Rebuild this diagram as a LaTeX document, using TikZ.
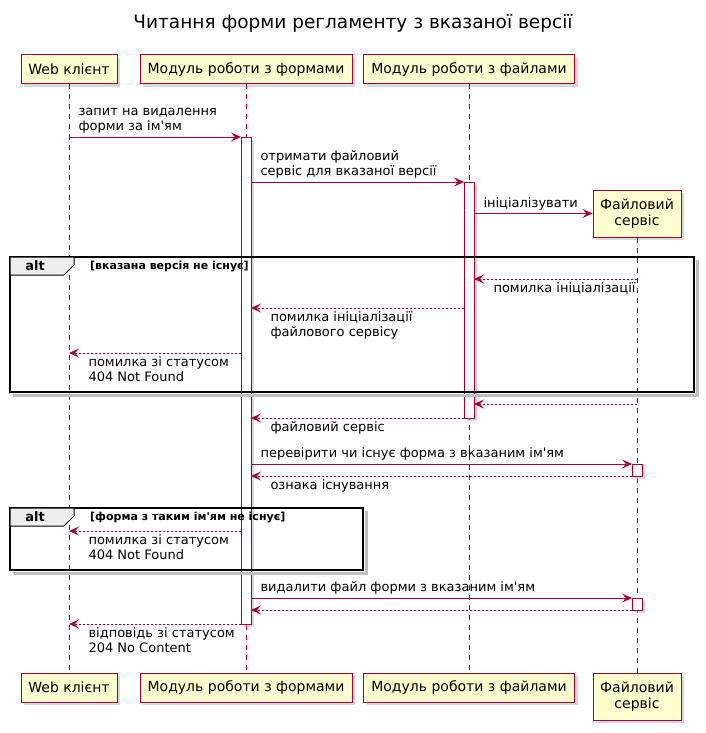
\documentclass[tikz,border=0pt]{standalone}
\usepackage{fontspec}
\setmainfont{DejaVu Sans}
\usepackage{xcolor}
\usepackage{tikz}
\usetikzlibrary{arrows.meta, shadows}

\definecolor{umlred}{HTML}{A80036}
\definecolor{umlfill}{HTML}{FEFECE}
\definecolor{umltab}{HTML}{EEEEEE}

\begin{document}
\begin{tikzpicture}[x=1pt, y=-1pt, >={Stealth[length=10pt, width=9pt, inset=4pt]},
    actor/.style={draw=umlred, fill=umlfill, line width=1pt, inner sep=0pt, minimum height=29pt, align=center,
        font=\fontsize{14}{16}\selectfont, drop shadow={shadow xshift=3pt, shadow yshift=-3pt, fill=black!30}},
    life/.style={draw=umlred, line width=0.8pt, dash pattern=on 5pt off 5pt},
    act/.style={draw=umlred, fill=white, line width=1pt, drop shadow={shadow xshift=3pt, shadow yshift=-3pt, fill=black!30}},
    msg/.style={->, draw=umlred, line width=1pt},
    ret/.style={->, draw=umlred, line width=1pt, dash pattern=on 2pt off 2pt},
    txt/.style={text=black, font=\fontsize{13}{15}\selectfont, inner sep=0pt, align=left},
    above txt/.style={txt, pos=0, anchor=south west, xshift=9pt, yshift=3pt},
    below txt/.style={txt, pos=1, anchor=north west, xshift=19pt, yshift=-3pt},
    frame/.style={draw=black, line width=1.5pt},
    frame shade/.style={black!25, line width=3pt},
    tab/.style={draw=black, fill=umltab, line width=1pt},
    guard/.style={font=\fontsize{11}{13}\selectfont\bfseries, inner sep=0pt, anchor=west}]

    \useasboundingbox (0,0) rectangle (706,733);

    \node[font=\fontsize{18.5}{22}\selectfont] (title) at (353,23) {Читання форми регламенту з вказаної версії};

    \node[actor, minimum width=96pt] (webtop) at (69,69.5) {Web клієнт};
    \node[actor, minimum width=212pt] (formstop) at (246,69.5) {Модуль роботи з формами};
    \node[actor, minimum width=211pt] (filestop) at (469,69.5) {Модуль роботи з файлами};
    \node[actor, minimum width=88pt, minimum height=47pt] (fstop) at (637,213.5) {Файловий\\сервіс};
    \node[actor, minimum width=96pt] (webbot) at (69,687.5) {Web клієнт};
    \node[actor, minimum width=212pt] (formsbot) at (246,687.5) {Модуль роботи з формами};
    \node[actor, minimum width=211pt] (filesbot) at (469,687.5) {Модуль роботи з файлами};
    \node[actor, minimum width=88pt, minimum height=47pt] (fsbot) at (637,696.5) {Файловий\\сервіс};

    \draw[life] (webtop) -- (webbot);
    \draw[life] (formstop) -- (formsbot);
    \draw[life] (filestop) -- (filesbot);
    \draw[life] (fstop) -- (fsbot);

    \draw[act] (241,137) rectangle (251,624);
    \draw[act] (464,182) rectangle (474,418);
    \draw[act] (632,464) rectangle (642,476);
    \draw[act] (632,598) rectangle (642,610);

    \draw[frame shade] (697,260) -- (697,395) -- (13,395);
    \draw[frame] (10,257) rectangle (694,392);
    \draw[tab] (10,257) -- (74,257) -- (74,265) -- (64,275) -- (10,275) -- cycle;
    \node[font=\fontsize{13}{15}\selectfont\bfseries] (alt1) at (35,266) {alt};
    \node[guard] (guard1) at (90,267) {[вказана версія не існує]};

    \draw[frame shade] (366,511) -- (366,573) -- (13,573);
    \draw[frame] (10,508) rectangle (363,570);
    \draw[tab] (10,508) -- (74,508) -- (74,516) -- (64,526) -- (10,526) -- cycle;
    \node[font=\fontsize{13}{15}\selectfont\bfseries] (alt2) at (35,517) {alt};
    \node[guard] (guard2) at (90,518) {[форма з таким ім\textquotesingle ям не існує]};

    \coordinate (m1a) at (69,137);   \coordinate (m1b) at (241,137);
    \coordinate (m2a) at (251,182);  \coordinate (m2b) at (464,182);
    \coordinate (m3a) at (474,213.5);
    \coordinate (m4a) at (637,279);  \coordinate (m4b) at (474,279);
    \coordinate (m5a) at (464,308);  \coordinate (m5b) at (251,308);
    \coordinate (m6a) at (241,353);  \coordinate (m6b) at (69,353);
    \coordinate (m7a) at (637,404);  \coordinate (m7b) at (474,404);
    \coordinate (m8a) at (464,418);  \coordinate (m8b) at (251,418);
    \coordinate (m9a) at (251,464);  \coordinate (m9b) at (632,464);
    \coordinate (m10a) at (632,476); \coordinate (m10b) at (251,476);
    \coordinate (m11a) at (241,531); \coordinate (m11b) at (69,531);
    \coordinate (m12a) at (251,598); \coordinate (m12b) at (632,598);
    \coordinate (m13a) at (632,610); \coordinate (m13b) at (251,610);
    \coordinate (m14a) at (241,624); \coordinate (m14b) at (69,624);

    \draw[msg] (m1a) -- (m1b) node[above txt] (t1) {запит на видалення\\форми за ім\textquotesingle ям};
    \draw[msg] (m2a) -- (m2b) node[above txt] (t2) {отримати файловий\\сервіс для вказаної версії};
    \draw[msg] (m3a) -- (fstop.west) node[above txt] (t3) {ініціалізувати};
    \draw[ret] (m4a) -- (m4b) node[below txt] (t4) {помилка ініціалізації};
    \draw[ret] (m5a) -- (m5b) node[below txt] (t5) {помилка ініціалізації\\файлового сервісу};
    \draw[ret] (m6a) -- (m6b) node[below txt] (t6) {помилка зі статусом\\404 Not Found};
    \draw[ret] (m7a) -- (m7b);
    \draw[ret] (m8a) -- (m8b) node[below txt] (t8) {файловий сервіс};
    \draw[msg] (m9a) -- (m9b) node[above txt] (t9) {перевірити чи існує форма з вказаним ім\textquotesingle ям};
    \draw[ret] (m10a) -- (m10b) node[below txt] (t10) {ознака існування};
    \draw[ret] (m11a) -- (m11b) node[below txt] (t11) {помилка зі статусом\\404 Not Found};
    \draw[msg] (m12a) -- (m12b) node[above txt] (t12) {видалити файл форми з вказаним ім\textquotesingle ям};
    \draw[ret] (m13a) -- (m13b);
    \draw[ret] (m14a) -- (m14b) node[below txt] (t14) {відповідь зі статусом\\204 No Content};
\end{tikzpicture}
\end{document}
